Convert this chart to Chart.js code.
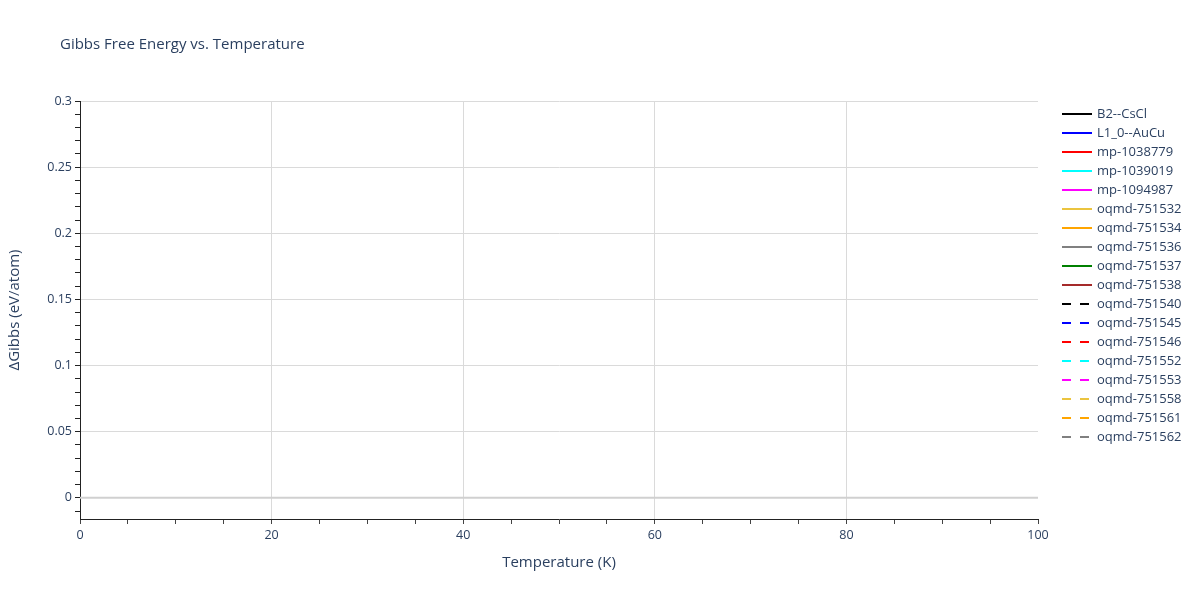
<!DOCTYPE html>
<html>
<head>
<meta charset="utf-8">
<style>
  html, body { margin: 0; padding: 0; background: #fff; }
  #wrap { width: 1200px; height: 600px; position: relative; }
</style>
<script src="https://cdn.jsdelivr.net/npm/chart.js@4.4.1/dist/chart.umd.min.js"></script>
</head>
<body>
<div id="wrap"><canvas id="gibbs-chart" width="1200" height="600"></canvas></div>
<script>
// structure labels, as in the legend
const seriesNames = [
  "B2--CsCl", "L1_0--AuCu", "mp-1038779", "mp-1039019", "mp-1094987",
  "oqmd-751532", "oqmd-751534", "oqmd-751536", "oqmd-751537", "oqmd-751538",
  "oqmd-751540", "oqmd-751545", "oqmd-751546", "oqmd-751552", "oqmd-751553",
  "oqmd-751558", "oqmd-751561", "oqmd-751562",
];
const seriesColors = [
  "#000000", "#0000ff", "#ff0000", "#00ffff", "#ff00ff",
  "#ebc43f", "#ffa500", "#808080", "#008000", "#a52a2a",
  "#000000", "#0000ff", "#ff0000", "#00ffff", "#ff00ff",
  "#ebc43f", "#ffa500", "#808080",
];
const seriesDashed = [
  false, false, false, false, false, false, false, false, false, false,
  true, true, true, true, true, true, true, true,
];
// no points of any trace fall inside the plotted window
const seriesValues = seriesNames.map(() => []);

const xTicks = [0, 5, 10, 15, 20, 25, 30, 35, 40, 45, 50, 55, 60, 65, 70, 75, 80, 85, 90, 95, 100];
const xLabelStep = 20;
const yTicks = [-0.01, 0, 0.01, 0.02, 0.03, 0.04, 0.05, 0.06, 0.07, 0.08, 0.09, 0.1,
  0.11, 0.12, 0.13, 0.14, 0.15, 0.16, 0.17, 0.18, 0.19, 0.2,
  0.21, 0.22, 0.23, 0.24, 0.25, 0.26, 0.27, 0.28, 0.29, 0.3];
const yLabelStep = 0.05;

const FONT = '"Open Sans", verdana, arial, sans-serif';
const TEXT = "#2a3f5f";
const GRID = "#dadada";

function isStep(value, step) {
  const r = value / step;
  return Math.abs(r - Math.round(r)) < 1e-6;
}

// plotly-style legend on the right plus the chart title
const sideLegend = {
  id: "sideLegend",
  afterDraw(chart) {
    const ctx = chart.ctx;
    ctx.save();
    ctx.font = "13px " + FONT;
    ctx.textBaseline = "middle";
    chart.data.datasets.forEach((ds, i) => {
      const y = 114 + i * 19;
      ctx.beginPath();
      ctx.lineWidth = 2;
      ctx.strokeStyle = ds.borderColor;
      ctx.setLineDash(ds.borderDash || []);
      ctx.moveTo(1062, y);
      ctx.lineTo(1092, y);
      ctx.stroke();
      ctx.setLineDash([]);
      ctx.fillStyle = TEXT;
      ctx.fillText(ds.label, 1097, y);
    });
    ctx.font = "15px " + FONT;
    ctx.fillStyle = TEXT;
    ctx.fillText("Gibbs Free Energy vs. Temperature", 60, 45);
    ctx.restore();
  },
};

const zeroLine = {
  id: "zeroLine",
  beforeDatasetsDraw(chart) {
    const { ctx, chartArea, scales } = chart;
    const y = scales.y.getPixelForValue(0);
    ctx.save();
    ctx.beginPath();
    ctx.lineWidth = 2;
    ctx.strokeStyle = "#d0d0d0";
    ctx.moveTo(chartArea.left, y);
    ctx.lineTo(chartArea.right, y);
    ctx.stroke();
    ctx.restore();
  },
};

const datasets = seriesNames.map((name, i) => ({
  label: name,
  data: seriesValues[i],
  borderColor: seriesColors[i],
  backgroundColor: seriesColors[i],
  borderWidth: 2,
  borderDash: seriesDashed[i] ? [9, 9] : [],
  pointRadius: 0,
  fill: false,
}));

new Chart(document.getElementById("gibbs-chart"), {
  type: "line",
  data: { datasets },
  plugins: [zeroLine, sideLegend],
  options: {
    responsive: false,
    animation: false,
    devicePixelRatio: 1,
    layout: { padding: { top: 101, right: 162, left: 0, bottom: 0 } },
    plugins: {
      legend: { display: false },
      title: { display: false },
      tooltip: { enabled: false },
    },
    scales: {
      x: {
        type: "linear",
        min: 0,
        max: 100,
        afterBuildTicks: (scale) => {
          scale.ticks = xTicks.map((v) => ({ value: v }));
        },
        afterFit: (scale) => {
          scale.height = 81;
        },
        border: { display: true, color: "#222", width: 1 },
        grid: {
          color: (c) => (c.tick && isStep(c.tick.value, xLabelStep) && c.tick.value > 0 && c.tick.value < 100 ? GRID : "rgba(0,0,0,0)"),
          tickColor: "#444",
          tickLength: 5,
          drawTicks: true,
        },
        ticks: {
          autoSkip: false,
          maxRotation: 0,
          padding: 4,
          color: TEXT,
          font: { family: FONT, size: 12.5 },
          callback: (v) => (isStep(v, xLabelStep) ? String(v) : ""),
        },
        title: {
          display: true,
          text: "Temperature (K)",
          color: TEXT,
          font: { family: FONT, size: 15 },
          padding: { top: 0, bottom: 28 },
        },
      },
      y: {
        type: "linear",
        min: -0.016,
        max: 0.3,
        afterBuildTicks: (scale) => {
          scale.ticks = yTicks.map((v) => ({ value: v }));
        },
        afterFit: (scale) => {
          scale.width = 80;
        },
        border: { display: true, color: "#222", width: 1 },
        grid: {
          color: (c) => (c.tick && isStep(c.tick.value, yLabelStep) && Math.abs(c.tick.value) > 1e-9 ? GRID : "rgba(0,0,0,0)"),
          tickColor: "#222",
          tickLength: 5,
        },
        ticks: {
          autoSkip: false,
          padding: 3,
          color: TEXT,
          font: { family: FONT, size: 12.5 },
          callback: (v) => (isStep(v, yLabelStep) ? String(Math.round(v * 100) / 100) : ""),
        },
        title: {
          display: true,
          text: "ΔGibbs (eV/atom)",
          color: TEXT,
          font: { family: FONT, size: 15 },
          padding: { top: 6, bottom: 0 },
        },
      },
    },
  },
});
</script>
</body>
</html>
